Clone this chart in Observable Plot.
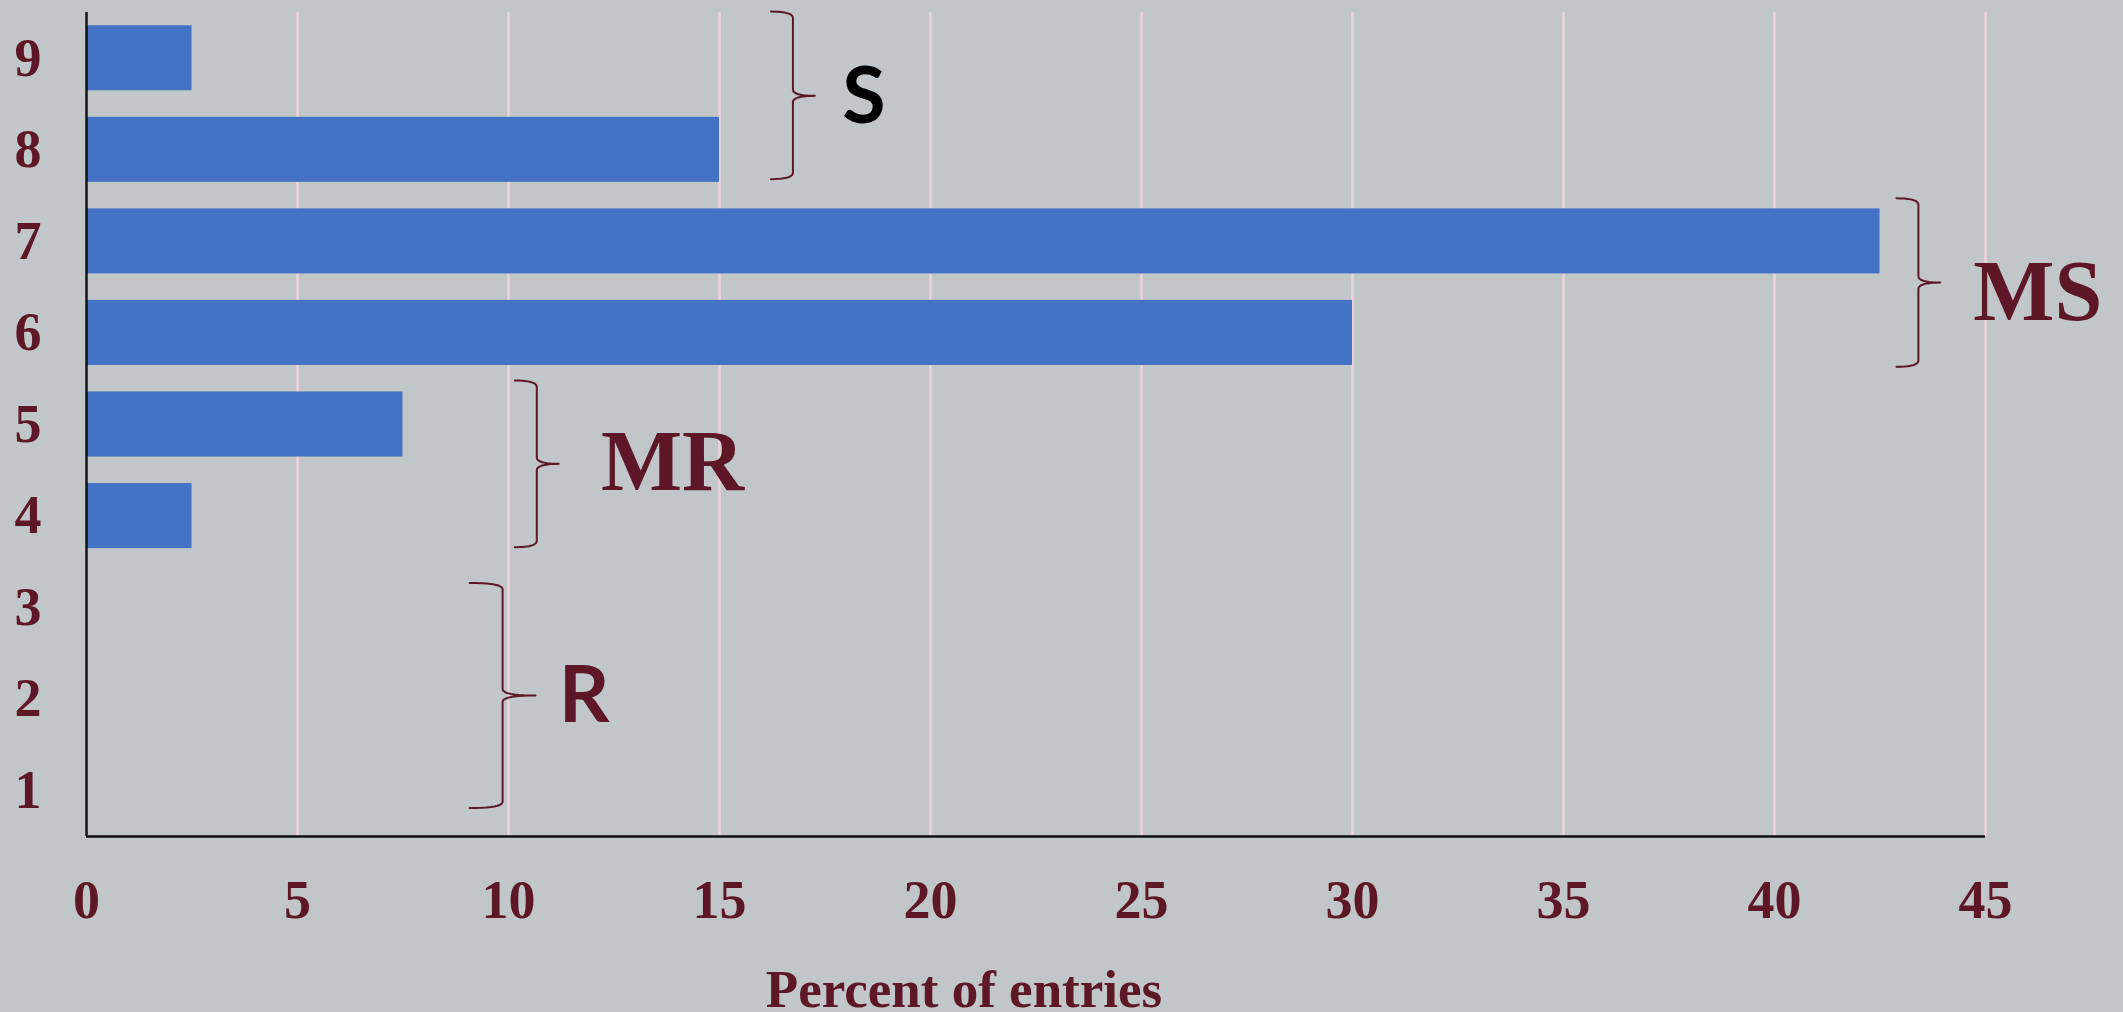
<!DOCTYPE html>
<html>
<head>
<meta charset="utf-8">
<script src="https://cdn.jsdelivr.net/npm/d3@7"></script>
<script src="https://cdn.jsdelivr.net/npm/@observablehq/plot@0.6"></script>
<style>
  html, body { margin: 0; padding: 0; background: #C1C6C9; overflow: hidden; }
</style>
</head>
<body>
<div id="chart"></div>
<script>
// Score levels (rows) and the share of entries at each level, in percent
const levels = [1, 2, 3, 4, 5, 6, 7, 8, 9];
const shares = [0, 0, 0, 2.5, 7.5, 30, 42.5, 15, 2.5];
const xTicks = [0, 5, 10, 15, 20, 25, 30, 35, 40, 45];
const xLabel = "Percent of entries";

// Level groups marked with braces
const groupNames = ["R", "MR", "MS", "S"];
const groupLevels = [[1, 2, 3], [4, 5], [6, 7], [8, 9]];

// Brace and label placement, in data units (percent on x, level on y)
const braceSpineX = [9.86, 10.67, 43.41, 16.74];
const braceTopY = [3.27, 5.48, 7.47, 9.51];
const braceMidY = [2.04, 4.57, 6.55, 8.59];
const braceBottomY = [0.81, 3.66, 5.63, 7.68];
const braceReach = [0.78, 0.52, 0.52, 0.52];
const groupLabelX = [11.19, 12.19, 44.71, 17.91];
const groupLabelY = [2.03, 4.59, 6.44, 8.57];

const maroon = "#5E1726";
const barBlue = "#4472C4";
const gridPink = "#EDD3D9";

const bars = levels.map((level, i) => ({level, share: shares[i]}));

// Build each "}" brace as a sampled polyline in data coordinates
function quad(p0, c, p1, n = 10) {
  const pts = [];
  for (let k = 0; k <= n; k++) {
    const t = k / n, u = 1 - t;
    pts.push([u * u * p0[0] + 2 * u * t * c[0] + t * t * p1[0],
              u * u * p0[1] + 2 * u * t * c[1] + t * t * p1[1]]);
  }
  return pts;
}
const curl = 0.07;
const bracePoints = groupNames.flatMap((g, i) => {
  const s = braceSpineX[i], r = braceReach[i];
  const top = braceTopY[i], mid = braceMidY[i], bot = braceBottomY[i];
  const pts = [
    ...quad([s - r, top], [s, top], [s, top - curl]),
    ...quad([s, mid + curl], [s, mid], [s + r, mid]),
    ...quad([s + r, mid], [s, mid], [s, mid - curl]),
    ...quad([s, bot + curl], [s, bot], [s - r, bot])
  ];
  return pts.map(([x, y]) => ({g, x, y}));
});

const groupLabels = groupNames.map((name, i) => ({name, x: groupLabelX[i], y: groupLabelY[i]}));
const serifLabels = groupLabels.filter(d => d.name === "MR" || d.name === "MS");
const sansLabels = groupLabels.filter(d => d.name === "R" || d.name === "S");

const chart = Plot.plot({
  width: 2123,
  height: 1012,
  marginLeft: 86,
  marginRight: 138,
  marginTop: 12,
  marginBottom: 176,
  style: {
    background: "#C1C6C9",
    color: maroon,
    fontFamily: "'Liberation Serif', 'Times New Roman', serif",
    fontWeight: "bold",
    overflow: "visible"
  },
  x: {domain: [0, 45]},
  y: {domain: [0.5, 9.5]},
  marks: [
    Plot.gridX(xTicks, {stroke: gridPink, strokeOpacity: 1, strokeWidth: 2.5}),
    Plot.rectX(bars, {
      x1: 0,
      x2: "share",
      y1: d => d.level - 0.355,
      y2: d => d.level + 0.355,
      fill: barBlue
    }),
    Plot.ruleX([0], {stroke: "#111", strokeWidth: 2.5}),
    Plot.ruleY([0.5], {stroke: "#111", strokeWidth: 2.5}),
    Plot.axisX(xTicks, {
      tickSize: 0, tickPadding: 43, label: null, tickFormat: d => String(d),
      fontSize: 54, fontWeight: "bold", fill: maroon
    }),
    Plot.axisY(levels, {
      tickSize: 0, tickPadding: 45, label: null, tickFormat: d => String(d),
      fontSize: 54, fontWeight: "bold", fill: maroon
    }),
    Plot.line(bracePoints, {x: "x", y: "y", z: "g", stroke: maroon, strokeWidth: 2, curve: "linear"}),
    Plot.text(serifLabels, {
      x: "x", y: "y", text: "name", textAnchor: "start", lineAnchor: "middle",
      fontSize: 86, fontWeight: "bold", fill: maroon
    }),
    Plot.text(sansLabels, {
      x: "x", y: "y", text: "name", textAnchor: "start", lineAnchor: "middle",
      fontSize: 79, fontWeight: "bold", fontFamily: "Lato, 'Open Sans', sans-serif",
      fill: d => d.name === "S" ? "#000" : maroon
    }),
    Plot.text([xLabel], {
      text: d => d, frameAnchor: "bottom", dx: -72, dy: 154, lineAnchor: "middle",
      fontSize: 53, fontWeight: "bold", fill: maroon
    })
  ]
});

document.getElementById("chart").appendChild(chart);
</script>
</body>
</html>
